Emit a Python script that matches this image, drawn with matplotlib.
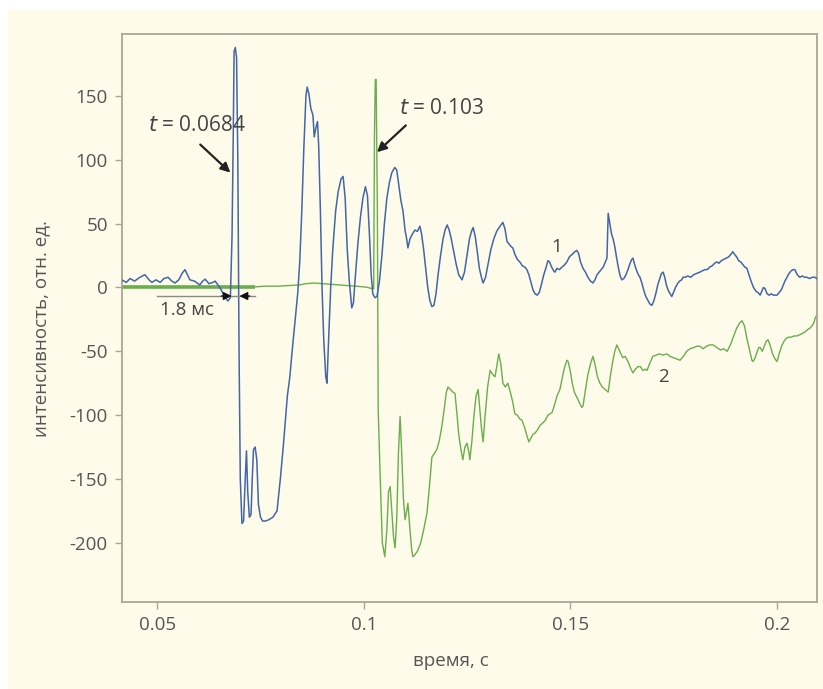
import matplotlib
matplotlib.use("Agg")
import matplotlib.pyplot as plt
from matplotlib.patches import Rectangle

plt.rcParams['font.family'] = ['Open Sans', 'DejaVu Sans']

# ---- data: curve 1 (blue) ----
t1 = [0.0414, 0.0425, 0.0434, 0.0445, 0.0458, 0.0470, 0.0480, 0.0487, 0.0497, 0.0507,
      0.0516, 0.0526, 0.0535, 0.0543, 0.0552, 0.0560, 0.0567, 0.0573, 0.0579, 0.0590,
      0.0603, 0.0610, 0.0616, 0.0625, 0.0635, 0.0640, 0.0647, 0.0655, 0.0664, 0.0671,
      0.0677, 0.0681, 0.0684, 0.0686, 0.0689, 0.0692, 0.0695, 0.0698, 0.0701, 0.0705,
      0.0709, 0.0713, 0.0716, 0.0719, 0.0723, 0.0727, 0.0730, 0.0733, 0.0737, 0.0741,
      0.0745, 0.0750, 0.0755, 0.0762, 0.0770, 0.0780, 0.0790, 0.0798, 0.0805, 0.0810,
      0.0815, 0.0821, 0.0828, 0.0834, 0.0840, 0.0845, 0.0850, 0.0855, 0.0860, 0.0863,
      0.0867, 0.0872, 0.0877, 0.0880, 0.0884, 0.0888, 0.0891, 0.0895, 0.0899, 0.0903,
      0.0908, 0.0911, 0.0915, 0.0920, 0.0925, 0.0932, 0.0938, 0.0945, 0.0950, 0.0955,
      0.0960, 0.0965, 0.0971, 0.0975, 0.0980, 0.0986, 0.0992, 0.0998, 0.1004, 0.1009,
      0.1014, 0.1018, 0.1022, 0.1027, 0.1032, 0.1038, 0.1044, 0.1050, 0.1056, 0.1062,
      0.1068, 0.1075, 0.1080, 0.1085, 0.1090, 0.1095, 0.1100, 0.1104, 0.1107, 0.1112,
      0.1118, 0.1124, 0.1130, 0.1136, 0.1140, 0.1145, 0.1150, 0.1155, 0.1160, 0.1165,
      0.1170, 0.1175, 0.1180, 0.1186, 0.1192, 0.1197, 0.1202, 0.1207, 0.1212, 0.1218,
      0.1224, 0.1230, 0.1238, 0.1244, 0.1250, 0.1256, 0.1261, 0.1265, 0.1270, 0.1275,
      0.1280, 0.1285, 0.1289, 0.1295, 0.1301, 0.1308, 0.1315, 0.1322, 0.1330, 0.1337,
      0.1342, 0.1347, 0.1352, 0.1357, 0.1361, 0.1366, 0.1372, 0.1378, 0.1384, 0.1390,
      0.1395, 0.1400, 0.1405, 0.1410, 0.1415, 0.1420, 0.1425, 0.1430, 0.1436, 0.1441,
      0.1446, 0.1450, 0.1455, 0.1460, 0.1463, 0.1468, 0.1474, 0.1480, 0.1486, 0.1492,
      0.1498, 0.1505, 0.1511, 0.1516, 0.1520, 0.1525, 0.1531, 0.1537, 0.1543, 0.1549,
      0.1555, 0.1560, 0.1565, 0.1570, 0.1575, 0.1580, 0.1585, 0.1589, 0.1592, 0.1596,
      0.1600, 0.1604, 0.1608, 0.1612, 0.1617, 0.1621, 0.1625, 0.1630, 0.1635, 0.1640,
      0.1645, 0.1649, 0.1652, 0.1656, 0.1660, 0.1665, 0.1669, 0.1674, 0.1678, 0.1683,
      0.1688, 0.1693, 0.1698, 0.1703, 0.1708, 0.1712, 0.1717, 0.1721, 0.1725, 0.1729,
      0.1733, 0.1737, 0.1742, 0.1746, 0.1750, 0.1755, 0.1760, 0.1765, 0.1770, 0.1773,
      0.1778, 0.1785, 0.1792, 0.1799, 0.1806, 0.1814, 0.1820, 0.1826, 0.1832, 0.1838,
      0.1844, 0.1850, 0.1855, 0.1860, 0.1866, 0.1872, 0.1878, 0.1884, 0.1889, 0.1894,
      0.1898, 0.1903, 0.1908, 0.1913, 0.1918, 0.1923, 0.1928, 0.1933, 0.1938, 0.1944,
      0.1950, 0.1955, 0.1960, 0.1964, 0.1968, 0.1972, 0.1977, 0.1982, 0.1987, 0.1992,
      0.1996, 0.2001, 0.2006, 0.2011, 0.2015, 0.2020, 0.2025, 0.2030, 0.2035, 0.2040,
      0.2044, 0.2050, 0.2056, 0.2062, 0.2068, 0.2073, 0.2080, 0.2086, 0.2093, 0.2097]
y1 = [6, 4, 7, 5, 8, 10, 6, 4, 6, 4,
      7, 8, 5, 3.5, 6, 11, 14, 10, 6, 5,
      2, 5, 6.5, 3, 4, 5, 2, -2, -7.5, -10.6,
      -8, 40, 120, 185, 188, 180, 100, -50, -150, -185,
      -183, -150, -128, -160, -180, -178, -150, -127, -125, -135,
      -170, -180, -183, -183, -182, -180, -175, -150, -125, -105,
      -85, -70, -45, -25, -5, 20, 60, 110, 150, 157,
      152, 140, 135, 118, 125, 130, 110, 60, 0, -40,
      -70, -75, -40, 0, 30, 60, 75, 85, 87, 70,
      30, 5, -16, -12, 10, 35, 55, 70, 79, 72,
      40, 10, -5, -8, -7, 5, 25, 50, 70, 82,
      90, 94, 92, 80, 68, 60, 45, 38, 31, 38,
      42, 45, 44, 48, 42, 30, 15, 0, -10, -15,
      -14, -5, 10, 25, 38, 45, 49, 45, 38, 28,
      18, 10, 6, 12, 25, 38, 44, 47, 40, 28,
      15, 8, 3.5, 8, 18, 30, 38, 44, 48, 51,
      46, 36, 34, 32, 31, 26, 22, 20, 17, 16,
      14, 10, 4, -2, -5, -6, -4, 2, 10, 15,
      21, 20, 16, 13, 12, 15, 14, 16, 17.6, 20,
      24, 26, 28, 29, 27, 20, 15, 12, 8, 5,
      3.5, 6, 10, 12, 14, 16, 20, 23, 58, 50,
      42, 38, 32, 24, 15, 9, 6, 7, 10, 14,
      19, 22, 23, 18, 14, 10, 8, 3, -2, -7,
      -10, -13, -14, -10, -4, 2, 7, 11, 12, 8,
      2, -2, -5, -7, -4, 0, 3, 5, 6, 8,
      8, 9, 8, 10, 11, 12, 13, 14, 14, 16,
      17, 19, 20, 19, 21, 22, 23, 24, 26, 28,
      26, 24, 21, 20, 18, 16, 15, 10, 5, 0,
      -3, -4, -6, -3, 0, -1, -5, -6, -5, -6,
      -6, -6, -4, -2, 1, 5, 8, 11, 13, 14,
      14, 10, 8, 9, 8, 8, 7, 8, 8, 7]

# ---- data: curve 2 (green) ----
t2_base = [0.0414, 0.0737]
y2_base = [0, 0]
t2 = [0.0737, 0.0760, 0.0790, 0.0820, 0.0845, 0.0860, 0.0880, 0.0900, 0.0920, 0.0940,
      0.0960, 0.0980, 0.1000, 0.1010, 0.1020, 0.1024, 0.1026, 0.1028, 0.1030, 0.1033,
      0.1035, 0.1040, 0.1045, 0.1051, 0.1056, 0.1060, 0.1064, 0.1068, 0.1072, 0.1076,
      0.1080, 0.1084, 0.1088, 0.1092, 0.1096, 0.1100, 0.1104, 0.1107, 0.1112, 0.1116,
      0.1119, 0.1125, 0.1131, 0.1138, 0.1145, 0.1153, 0.1158, 0.1165, 0.1171, 0.1177,
      0.1183, 0.1189, 0.1195, 0.1200, 0.1204, 0.1210, 0.1216, 0.1221, 0.1226, 0.1230,
      0.1233, 0.1237, 0.1240, 0.1245, 0.1250, 0.1254, 0.1257, 0.1262, 0.1267, 0.1272,
      0.1277, 0.1281, 0.1285, 0.1289, 0.1294, 0.1300, 0.1306, 0.1312, 0.1318, 0.1322,
      0.1327, 0.1332, 0.1337, 0.1343, 0.1349, 0.1355, 0.1361, 0.1366, 0.1372, 0.1378,
      0.1383, 0.1390, 0.1395, 0.1400, 0.1405, 0.1410, 0.1415, 0.1420, 0.1427, 0.1434,
      0.1440, 0.1446, 0.1451, 0.1456, 0.1462, 0.1468, 0.1475, 0.1480, 0.1486, 0.1492,
      0.1495, 0.1500, 0.1505, 0.1510, 0.1516, 0.1522, 0.1528, 0.1531, 0.1537, 0.1543,
      0.1549, 0.1555, 0.1560, 0.1566, 0.1572, 0.1578, 0.1585, 0.1592, 0.1597, 0.1603,
      0.1608, 0.1613, 0.1620, 0.1627, 0.1633, 0.1640, 0.1646, 0.1652, 0.1658, 0.1664,
      0.1670, 0.1676, 0.1682, 0.1686, 0.1692, 0.1700, 0.1708, 0.1716, 0.1725, 0.1734,
      0.1742, 0.1750, 0.1758, 0.1766, 0.1774, 0.1782, 0.1790, 0.1800, 0.1807, 0.1814,
      0.1822, 0.1830, 0.1838, 0.1846, 0.1855, 0.1864, 0.1872, 0.1880, 0.1888, 0.1896,
      0.1903, 0.1910, 0.1916, 0.1922, 0.1928, 0.1935, 0.1940, 0.1943, 0.1948, 0.1953,
      0.1957, 0.1960, 0.1965, 0.1970, 0.1975, 0.1979, 0.1984, 0.1990, 0.1996, 0.2001,
      0.2006, 0.2012, 0.2018, 0.2023, 0.2028, 0.2035, 0.2042, 0.2049, 0.2056, 0.2062,
      0.2068, 0.2075, 0.2080, 0.2086, 0.2091, 0.2093, 0.2097]
y2 = [0.5, 1, 1, 1.5, 2, 3, 3.5, 3, 2.5, 2,
      1.5, 1, 0.5, 0, -1, -1, 120, 163, 163, 60,
      -96, -150, -200, -211, -190, -160, -156, -175, -195, -204,
      -180, -130, -101, -130, -165, -182, -175, -169, -190, -205,
      -211, -209, -206, -200, -190, -177, -160, -133, -130, -127,
      -120, -109, -95, -82, -78, -80, -82, -83, -100, -115,
      -122, -130, -135, -125, -122, -128, -135, -120, -100, -85,
      -80, -95, -110, -121, -100, -78, -65, -68, -70, -62,
      -52, -60, -75, -78, -75, -82, -90, -99, -100, -103,
      -104, -110, -116, -121, -118, -115, -114, -112, -108, -106,
      -104, -100, -99, -98, -92, -85, -80, -72, -63, -57,
      -58, -65, -75, -82, -86, -90, -94, -93, -80, -68,
      -60, -54, -60, -70, -75, -78, -80, -82, -70, -58,
      -50, -45, -50, -55, -54, -58, -63, -67, -64, -62,
      -62, -65, -64, -65, -60, -54, -53, -52, -53, -52,
      -54, -55, -56, -57, -54, -50, -48, -47, -46, -46,
      -48, -46, -45, -45, -47, -49, -48, -50, -45, -38,
      -32, -28, -26, -30, -40, -50, -57, -58, -55, -50,
      -47, -47, -50, -46, -42, -41, -45, -52, -56, -58,
      -52, -46, -42, -40, -39, -39, -38, -38, -37, -36,
      -35, -33, -32, -30, -27, -24, -22]

xticks = [0.05, 0.1, 0.15, 0.2]
xtick_labels = ['0.05', '0.1', '0.15', '0.2']
yticks = [150, 100, 50, 0, -50, -100, -150, -200]

# ---- styling ----
CREAM = '#fefbea'
BLUE = '#4266a8'
GREEN = '#6aae4c'
SPINE = '#a9a898'
TXT = '#555555'

fig = plt.figure(figsize=(8.23, 6.89), dpi=100, facecolor='white')
fig.patches.append(Rectangle((8 / 823, 0), 1, 1 - 9.5 / 689, transform=fig.transFigure,
                             facecolor=CREAM, edgecolor='none', zorder=-10))
ax = fig.add_axes([121.7 / 823, 1 - 601.7 / 689, 695 / 823, 567.7 / 689])
ax.set_facecolor(CREAM)

ax.plot(t2_base, y2_base, color=GREEN, lw=2.6, solid_capstyle='butt', zorder=2)
ax.plot(t2, y2, color=GREEN, lw=1.0, zorder=2)
ax.plot(t1, y1, color=BLUE, lw=1.1, zorder=3)

ax.set_xlim(0.04138, 0.2097)
ax.set_ylim(-246.2, 198.6)
ax.set_xticks(xticks)
ax.set_xticklabels(xtick_labels)
ax.set_yticks(yticks)
ax.set_yticklabels([str(v) for v in yticks])

for s in ax.spines.values():
    s.set_color(SPINE)
    s.set_linewidth(1.3)
ax.tick_params(direction='out', length=5, width=1.0, color=SPINE, labelcolor=TXT,
               labelsize=13.5, pad=5)

ax.set_xlabel('время, с', fontsize=13.5, color=TXT)
ax.set_ylabel('интенсивность, отн. ед.', fontsize=13.5, color=TXT)
ax.xaxis.set_label_coords(0.474, -0.088)
ax.yaxis.set_label_coords(-0.103, 0.482)

# annotations
ax.annotate('', xy=(0.0677, 90), xytext=(0.0604, 112),
            arrowprops=dict(arrowstyle='-|>', color='#222222', lw=1.6, mutation_scale=14,
                            shrinkA=0, shrinkB=0))
ax.text(0.0596, 127, r'$t$' + ' = 0.0684', fontsize=15, color='#444444',
        ha='center', va='center')
ax.annotate('', xy=(0.1032, 106), xytext=(0.1102, 127),
            arrowprops=dict(arrowstyle='-|>', color='#222222', lw=1.6, mutation_scale=14,
                            shrinkA=0, shrinkB=0))
ax.text(0.1187, 140.6, r'$t$' + ' = 0.103', fontsize=15, color='#444444',
        ha='center', va='center')

# 1.8 ms marker
ax.plot([0.0499, 0.0737], [-6.7, -6.7], color='#8a8a80', lw=1.0, zorder=4)
ax.annotate('', xy=(0.0680, -6.7), xytext=(0.0655, -6.7),
            arrowprops=dict(arrowstyle='-|>', color='#111111', lw=1.0, mutation_scale=12,
                            shrinkA=0, shrinkB=0), zorder=5)
ax.annotate('', xy=(0.0699, -6.7), xytext=(0.0724, -6.7),
            arrowprops=dict(arrowstyle='-|>', color='#111111', lw=1.0, mutation_scale=12,
                            shrinkA=0, shrinkB=0), zorder=5)
ax.text(0.0572, -17.6, '1.8 мс', fontsize=13.5, color='#444444', ha='center', va='center')

ax.text(0.1468, 32, '1', fontsize=13.5, color='#444444', ha='center', va='center')
ax.text(0.1725, -70, '2', fontsize=13.5, color='#444444', ha='center', va='center')

fig.savefig('out.png', dpi=100, facecolor='white')
